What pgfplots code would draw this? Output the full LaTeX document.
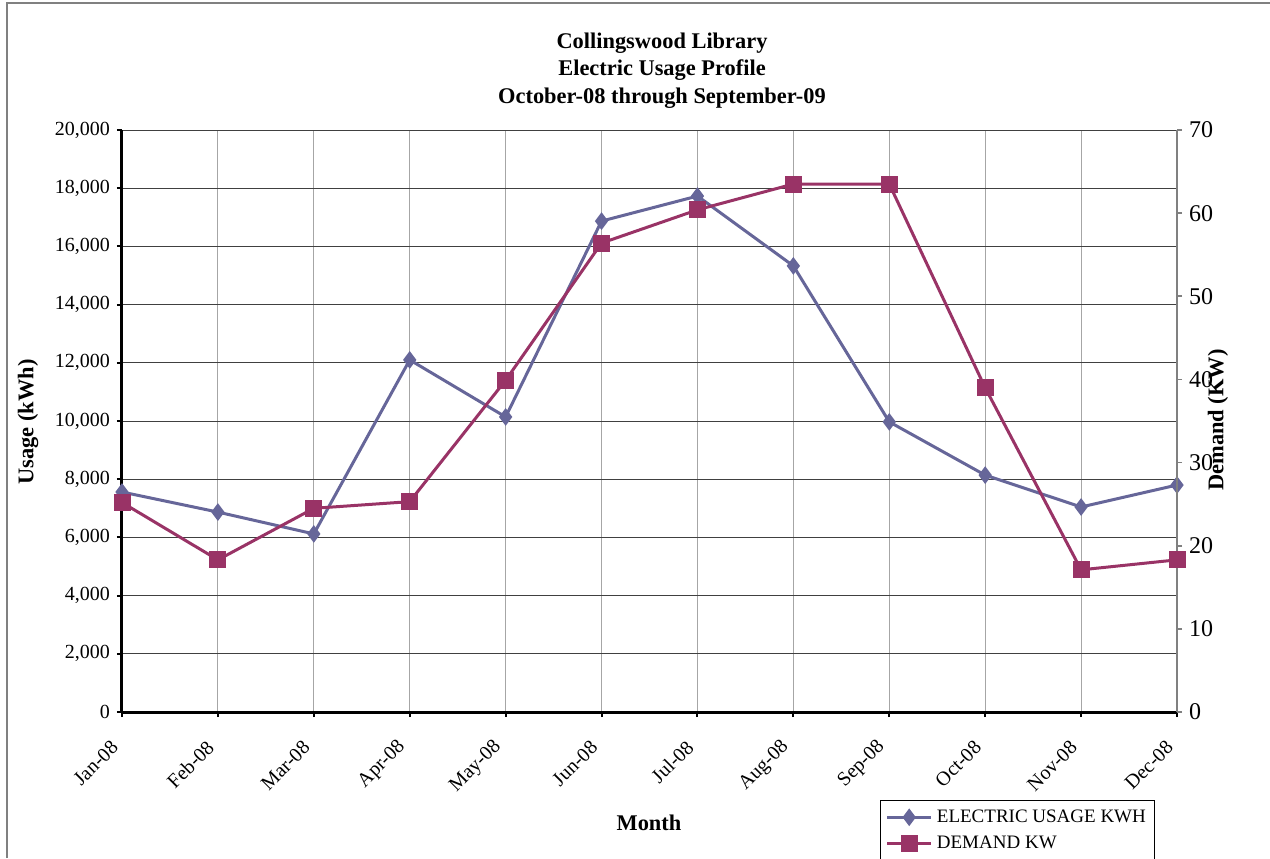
\documentclass[border=0pt]{standalone}
\usepackage{fontspec}
\setmainfont{Liberation Serif}
\usepackage{pgfplots}
\usepackage{pgfplotstable}
\pgfplotsset{compat=1.18}

\definecolor{usagecol}{RGB}{102,102,153}
\definecolor{demandcol}{RGB}{153,51,102}

% month index, electric usage (kWh), demand (kW)
\pgfplotstableread{
m usage demand
0  7560  25.2
1  6870  18.3
2  6120  24.5
3  12100 25.3
4  10140 39.9
5  16870 56.4
6  17730 60.4
7  15330 63.5
8  9970  63.5
9  8140  39.0
10 7045  17.1
11 7800  18.3
}\datatable

\begin{document}
\begin{tikzpicture}
\useasboundingbox (0,0) rectangle (635pt,429pt);
% outer frame of the chart area
\draw[gray, line width=0.6pt] (3.5pt,0) -- (3.5pt,427.5pt) -- (640pt,427.5pt);

% title
\node[font=\fontsize{11.2}{13}\selectfont\bfseries] at (331pt,407.5pt) {Collingswood Library};
\node[font=\fontsize{11.2}{13}\selectfont\bfseries] at (331pt,394pt) {Electric Usage Profile};
\node[font=\fontsize{11.2}{13}\selectfont\bfseries] at (331pt,380pt) {October-08 through September-09};

% axis titles
\node[font=\fontsize{11.2}{13}\selectfont\bfseries, rotate=90] at (14pt,218pt) {Usage (kWh)};
\node[font=\fontsize{11.2}{13}\selectfont\bfseries, rotate=90] at (609pt,219pt) {Demand (KW)};
\node[font=\fontsize{11.2}{13}\selectfont\bfseries] at (324.5pt,17.5pt) {Month};

% primary axis: usage
\begin{axis}[
  at={(61pt,73pt)}, anchor=south west,
  scale only axis, width=527.5pt, height=291pt,
  xmin=0, xmax=11, ymin=0, ymax=20000,
  axis x line*=bottom, axis y line*=left,
  x axis line style={-, black, line width=1.5pt},
  y axis line style={-, black, line width=1.5pt},
  xtick={0,...,11},
  xticklabels={Jan-08,Feb-08,Mar-08,Apr-08,May-08,Jun-08,Jul-08,Aug-08,Sep-08,Oct-08,Nov-08,Dec-08},
  ytick={0,2000,...,20000},
  scaled y ticks=false,
  /pgf/number format/assume math mode=true,
  /pgf/number format/1000 sep={,},
  tick align=outside, major tick length=2.5pt,
  tick style={black, line width=1pt},
  grid=major,
  x grid style={black!35, line width=0.5pt},
  y grid style={black!75, line width=0.5pt},
  yticklabel style={font=\fontsize{10}{12}\selectfont},
  xticklabel style={font=\fontsize{10}{12}\selectfont, rotate=45, anchor=east,
    yshift=-7pt, xshift=-8.75pt},
  clip=false,
]
\addplot[usagecol, line width=1.5pt, mark=diamond*, mark size=3.2pt,
  mark options={solid, fill=usagecol}] table[x=m, y=usage] {\datatable};
\end{axis}

% secondary axis: demand
\begin{axis}[
  at={(61pt,73pt)}, anchor=south west,
  scale only axis, width=527.5pt, height=291pt,
  xmin=0, xmax=11, ymin=0, ymax=70,
  axis x line=none, axis y line*=right,
  y axis line style={-, black!50, line width=1pt},
  ytick={0,10,...,70},
  /pgf/number format/assume math mode=true,
  tick align=outside, major tick length=2.5pt,
  ytick style={black!50, line width=0.8pt},
  yticklabel style={font=\fontsize{12}{14}\selectfont},
  clip=false,
  legend style={at={(0.7185,-0.1512)}, anchor=north west, draw=black,
    line width=0.5pt, font=\fontsize{9.5}{11}\selectfont, inner sep=2.5pt,
    row sep=1.5pt},
  legend cell align=left,
  legend image code/.code={\draw[mark repeat=2, mark phase=2]
    plot coordinates {(0cm,0cm) (0.39cm,0cm) (0.78cm,0cm)};},
]
\addlegendimage{usagecol, line width=1.5pt, mark=diamond*, mark size=3.2pt,
  mark options={solid, fill=usagecol}}
\addlegendentry{ELECTRIC USAGE KWH}
\addplot[demandcol, line width=1.5pt, mark=square*, mark size=3.5pt,
  mark options={solid, fill=demandcol}] table[x=m, y=demand] {\datatable};
\addlegendentry{DEMAND KW}
\end{axis}
\end{tikzpicture}
\end{document}
